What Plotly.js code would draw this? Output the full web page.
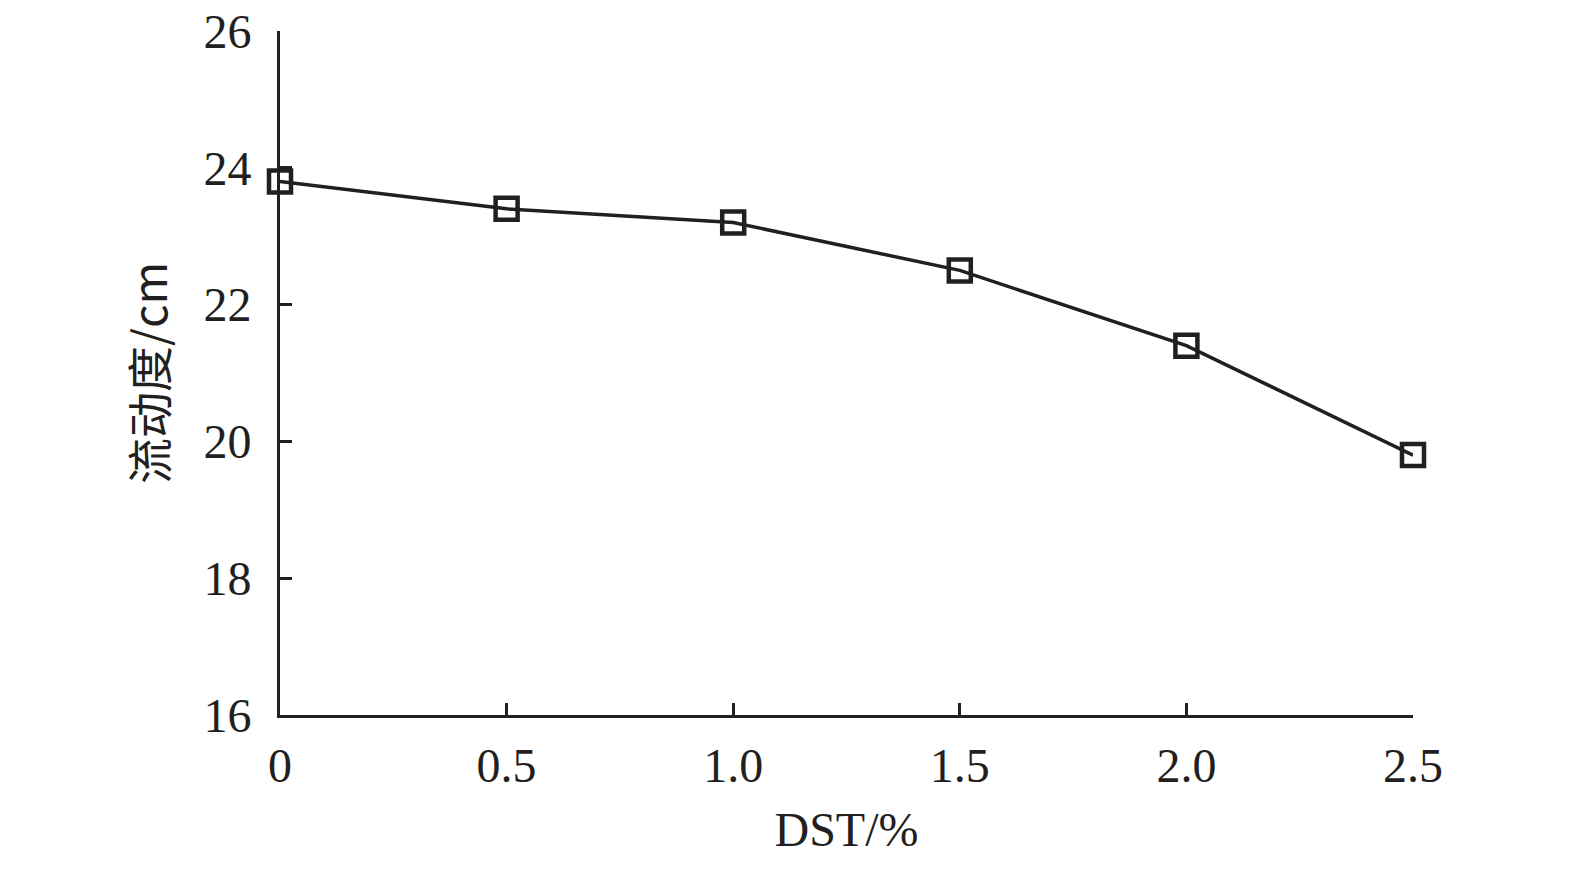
<html><head><script src="https://cdn.plot.ly/plotly-3.0.1.min.js"></script></head><body style="margin:0">
<div id="c" style="width:1575px;height:872px"></div>
<script>
const dst = [0, 0.5, 1.0, 1.5, 2.0, 2.5];
const flow = [23.8, 23.4, 23.2, 22.5, 21.4, 19.8];
const xTicks = [0, 0.5, 1.0, 1.5, 2.0, 2.5];
const xTickText = ['0', '0.5', '1.0', '1.5', '2.0', '2.5'];
const yTicks = [16, 18, 20, 22, 24, 26];
const f = {family: 'Liberation Serif, Times New Roman, serif', size: 48, color: '#231f20'};
Plotly.newPlot('c', [{
  x: dst, y: flow, mode: 'lines+markers', cliponaxis: false,
  line: {color: '#231f20', width: 3.5},
  marker: {symbol: 'square-open', size: 22, color: '#231f20', line: {width: 4.5, color: '#231f20'}}
}], {
  width: 1575, height: 872, showlegend: false,
  paper_bgcolor: '#fff', plot_bgcolor: '#fff',
  margin: {l: 280, r: 162, t: 31, b: 157},
  font: f,
  xaxis: {range: [0, 2.5], tickvals: xTicks, ticktext: xTickText, ticks: 'inside', ticklen: 12, tickwidth: 3,
    tickcolor: '#231f20', showline: true, linewidth: 3, linecolor: '#231f20', showgrid: false, zeroline: false,
    tickfont: f, ticklabelstandoff: 6, title: {text: 'DST/%', font: f, standoff: 22}},
  yaxis: {range: [16, 26], tickvals: yTicks, ticks: 'inside', ticklen: 12, tickwidth: 3,
    tickcolor: '#231f20', showline: true, linewidth: 3, linecolor: '#231f20', showgrid: false, zeroline: false,
    tickfont: f, ticklabelstandoff: 16, title: {text: '流动度/cm', font: {family: 'Noto Sans CJK SC, Liberation Serif, serif', size: 46, color: '#231f20'}, standoff: 22}}
}, {staticPlot: true});
</script></body></html>
